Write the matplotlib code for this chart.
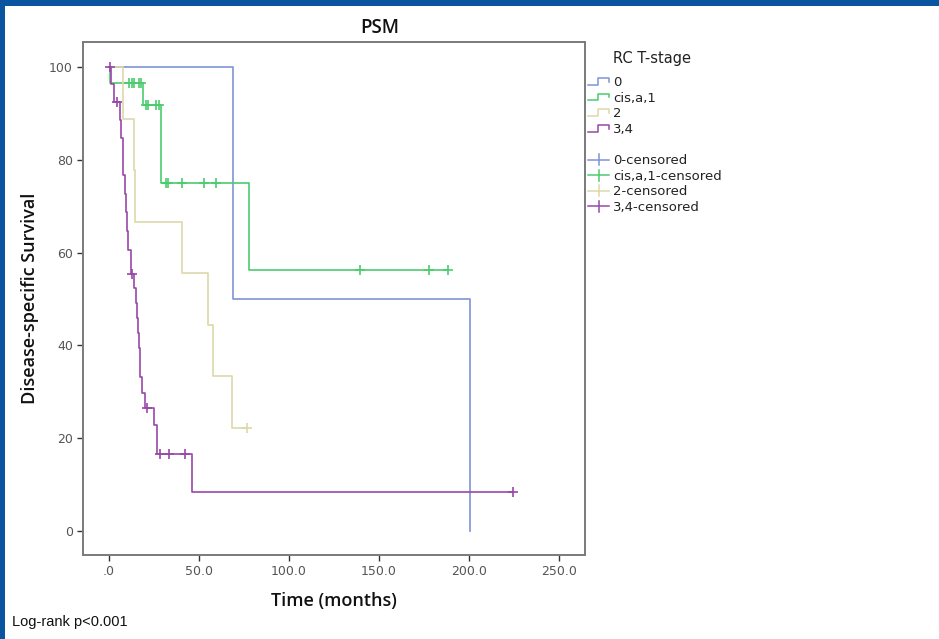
import numpy as np
import matplotlib
matplotlib.use("Agg")
import matplotlib.pyplot as plt
from matplotlib.lines import Line2D
from matplotlib.patches import Rectangle
from matplotlib.legend_handler import HandlerBase

# ---------------- data ----------------
groups = ["0", "cis,a,1", "2", "3,4"]
colors = ["#7f93d8", "#4ccb6e", "#ddd8aa", "#9a48a8"]

blue_t = [0, 69.0, 200.5]
blue_s = [100, 50.0, 0.0]
blue_c = []

green_t = [0, 0.8, 19.0, 28.9, 78.0, 188.3]
green_s = [100, 96.6, 91.8, 75.0, 56.3, 56.3]
green_c = [11.3, 12.6, 13.9, 16.5, 18.0, 20.6, 21.8, 26.0, 27.5,
           31.7, 33.0, 40.7, 52.6, 59.4, 139.4, 177.8, 188.3]

beige_t = [0, 8.0, 13.9, 14.4, 40.8, 55.0, 57.6, 68.5, 76.5]
beige_s = [100, 88.9, 77.8, 66.7, 55.6, 44.4, 33.3, 22.2, 22.2]
beige_c = [76.5]

purple_t = [0, 1.0, 2.5, 6.0, 6.8, 7.5, 8.0, 8.6, 9.3, 9.8, 10.3, 12.0, 13.9,
            15.0, 15.7, 16.2, 16.9, 17.1, 17.4, 18.5, 20.0, 25.0, 26.8, 46.3, 224.2]
purple_s = [100, 96.3, 92.6, 88.7, 84.7, 80.7, 76.7, 72.7, 68.7, 64.6, 60.6, 55.5, 52.3,
            49.1, 45.9, 42.7, 39.5, 36.3, 33.1, 29.8, 26.5, 22.9, 16.5, 8.3, 8.3]
purple_c = [0.3, 4.3, 12.6, 20.9, 28.3, 33.5, 42.2, 224.2]

xticks = [0, 50, 100, 150, 200, 250]
xtick_labels = [".0", "50.0", "100.0", "150.0", "200.0", "250.0"]
yticks = [0, 20, 40, 60, 80, 100]
ytick_labels = ["0", "20", "40", "60", "80", "100"]

curves = [(blue_t, blue_s, blue_c), (green_t, green_s, green_c),
          (beige_t, beige_s, beige_c), (purple_t, purple_s, purple_c)]

# ---------------- figure ----------------
W, H = 939, 639
fig = plt.figure(figsize=(W / 100, H / 100), dpi=100)
fig.patch.set_facecolor("white")

ax = fig.add_axes([83.3 / W, 1 - 555 / H, (585 - 83.3) / W, (555 - 41.7) / H])

lw = 1.2
for (t, s, c), col in zip(curves, colors):
    ax.step(t, s, where="post", color=col, lw=lw, zorder=3)
    if c:
        t_arr = np.asarray(t)
        s_arr = np.asarray(s)
        idx = np.searchsorted(t_arr, np.asarray(c), side="right") - 1
        ax.plot(c, s_arr[idx], linestyle="none", marker="+", markersize=7,
                markeredgewidth=1.2, color=col, zorder=4)

ax.set_xlim(-14.3, 264.4)
ax.set_ylim(-5.2, 105.5)
ax.set_xticks(xticks)
ax.set_xticklabels(xtick_labels)
ax.set_yticks(yticks)
ax.set_yticklabels(ytick_labels)
ax.tick_params(axis="both", direction="out", length=4.5, width=1.0, color="#333333",
               labelsize=9, labelcolor="#555555", pad=3)
for lab in ax.get_xticklabels() + ax.get_yticklabels():
    lab.set_family("DejaVu Sans")
for sp in ax.spines.values():
    sp.set_color("#7a7a7a")
    sp.set_linewidth(1.4)

label_font = dict(family=["Open Sans", "DejaVu Sans"], weight="semibold", size=13, color="#111111")
ax.set_xlabel("Time (months)", labelpad=10, **label_font)
ax.set_ylabel("Disease-specific Survival", labelpad=7, **label_font)

fig.text(380 / W, 1 - 28 / H, "PSM", ha="center", va="center",
         family=["Open Sans", "DejaVu Sans"], weight="semibold", size=13.5, color="#111111")


# ---------------- legend ----------------
class StepHandler(HandlerBase):
    def create_artists(self, legend, orig_handle, xdescent, ydescent, width, height, fontsize, trans):
        x0, y0 = -xdescent, -ydescent
        xs = [x0, x0 + 0.45 * width, x0 + 0.45 * width, x0 + width, x0 + width]
        ys = [y0 + 0.15 * height, y0 + 0.15 * height, y0 + 0.85 * height,
              y0 + 0.85 * height, y0 + 0.45 * height]
        return [Line2D(xs, ys, color=orig_handle.get_color(), lw=1.1, transform=trans)]


class CensorHandler(HandlerBase):
    def create_artists(self, legend, orig_handle, xdescent, ydescent, width, height, fontsize, trans):
        x0, y0 = -xdescent, -ydescent
        ym = y0 + 0.5 * height
        h = Line2D([x0, x0 + width], [ym, ym], color=orig_handle.get_color(), lw=1.1, transform=trans)
        v = Line2D([x0 + 0.5 * width] * 2, [y0 - 0.1 * height, y0 + 1.1 * height],
                   color=orig_handle.get_color(), lw=1.1, transform=trans)
        return [h, v]


class BlankHandler(HandlerBase):
    def create_artists(self, legend, orig_handle, xdescent, ydescent, width, height, fontsize, trans):
        return [Line2D([], [], color="none", transform=trans)]


handles, labels, hmap = [], [], {}
for g, col in zip(groups, colors):
    h = Line2D([], [], color=col)
    handles.append(h); labels.append(g); hmap[h] = StepHandler()
blank = Line2D([], [], color="white")
handles.append(blank); labels.append(" "); hmap[blank] = BlankHandler()
for g, col in zip(groups, colors):
    h = Line2D([], [], color=col)
    handles.append(h); labels.append(g + "-censored"); hmap[h] = CensorHandler()

leg = fig.legend(handles, labels, handler_map=hmap, loc="upper left",
                 bbox_to_anchor=(588 / W, 1 - 76 / H), frameon=False,
                 borderpad=0, borderaxespad=0, handlelength=1.6, handleheight=0.7,
                 handletextpad=0.3, labelspacing=0.2,
                 prop=dict(family="DejaVu Sans", size=9.5))
for txt in leg.get_texts():
    txt.set_color("#222222")

fig.text(613 / W, 1 - 58 / H, "RC T-stage", ha="left", va="center",
         family="DejaVu Sans", size=10.5, color="#222222")

fig.text(12 / W, 1 - 622 / H, "Log-rank p<0.001", ha="left", va="center",
         family=["Liberation Sans Narrow", "Liberation Sans", "DejaVu Sans"], size=10.5, color="#111111")

# ---------------- frame border ----------------
border = "#0b55a0"
fig.add_artist(Rectangle((0, 1 - 6 / H), 1, 6 / H, transform=fig.transFigure,
                         facecolor=border, edgecolor="none", zorder=10))
fig.add_artist(Rectangle((0, 0), 5 / W, 1, transform=fig.transFigure,
                         facecolor=border, edgecolor="none", zorder=10))

fig.savefig("out.png", dpi=100)
